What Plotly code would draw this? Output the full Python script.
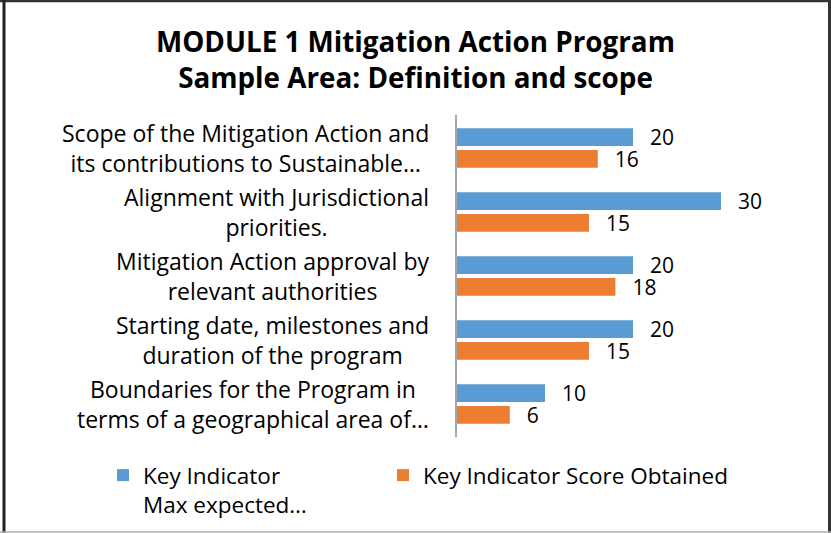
import plotly.graph_objects as go

categories = [
    "Scope of the Mitigation Action and<br>its contributions to Sustainable…",
    "Alignment with Jurisdictional<br>priorities.",
    "Mitigation Action approval by<br>relevant authorities",
    "Starting date, milestones and<br>duration of the program",
    "Boundaries for the Program in<br>terms of a geographical area of…",
]
max_expected = [20, 30, 20, 20, 10]
score_obtained = [16, 15, 18, 15, 6]
series_names = ["Key Indicator<br>Max expected…", "Key Indicator Score Obtained"]

W, H = 831, 533
L, R, T, B = 457, 22, 115, 96
PW, PH = W - L - R, H - T - B

FONT = "Open Sans"
BLUE = "#5B9BD5"
ORANGE = "#ED7D31"

fig = go.Figure()
for name, vals, col, lw in [(series_names[0], max_expected, BLUE, 235),
                            (series_names[1], score_obtained, ORANGE, 340)]:
    fig.add_trace(go.Bar(
        y=categories, x=vals, orientation="h", name=name,
        marker=dict(color=col, line=dict(width=0)),
        text=vals, texttemplate="\u2002\u2009%{x}", textposition="outside",
        textfont=dict(family=FONT, size=21, color="#000000"),
        cliponaxis=False, constraintext="none", hoverinfo="skip",
        legendwidth=lw,
    ))

annotations = []
for c in categories:
    annotations.append(dict(
        x=0, xref="paper", y=c, yref="y", xanchor="right", xshift=-26,
        text=c, showarrow=False, align="center",
        font=dict(family=FONT, size=23, color="#000000"),
    ))

def px_x(p):
    return (p - L) / PW

def px_y(p):
    return (H - B - p) / PH

def hline(x0, x1, y, color, width):
    return dict(type="line", xref="paper", yref="paper", x0=px_x(x0), x1=px_x(x1),
                y0=px_y(y), y1=px_y(y), line=dict(color=color, width=width), layer="above")

def vline(x, y0, y1, color, width):
    return dict(type="line", xref="paper", yref="paper", x0=px_x(x), x1=px_x(x),
                y0=px_y(y0), y1=px_y(y1), line=dict(color=color, width=width), layer="above")

fig.update_layout(
    width=W, height=H,
    margin=dict(l=L, r=R, t=T, b=B, pad=0, autoexpand=False),
    paper_bgcolor="white", plot_bgcolor="white",
    barmode="group", bargap=0.32, bargroupgap=0.18,
    title=dict(
        text="<b>MODULE 1 Mitigation Action Program<br>Sample Area: Definition and scope</b>",
        x=0.5, xref="container", xanchor="center", y=1 - 52 / H, yanchor="middle",
        font=dict(family=FONT, size=27.8, color="#000000"),
    ),
    xaxis=dict(range=[0, 40], visible=False, fixedrange=True),
    yaxis=dict(autorange="reversed", showticklabels=False, showgrid=False, fixedrange=True,
               showline=True, linecolor="#A6A6A6", linewidth=1.5, ticks="", zeroline=False),
    showlegend=True,
    legend=dict(
        orientation="h", x=px_x(103), xanchor="left", y=px_y(454), yanchor="top",
        font=dict(family=FONT, size=22.5, color="#000000"),
        valign="top", itemwidth=30, traceorder="normal",
        bgcolor="rgba(0,0,0,0)",
    ),
    annotations=annotations,
    shapes=[
        hline(0, 831, 1, "#333333", 2.5),
        vline(4, 0, 533, "#222222", 3),
        vline(829.5, 0, 533, "#333333", 3),
        hline(0, 831, 532, "#B0B0B0", 1.5),
    ],
)

fig.write_html("out.html", config={"displayModeBar": False},
               post_script="document.body.style.margin='0';document.body.style.overflow='hidden';")
